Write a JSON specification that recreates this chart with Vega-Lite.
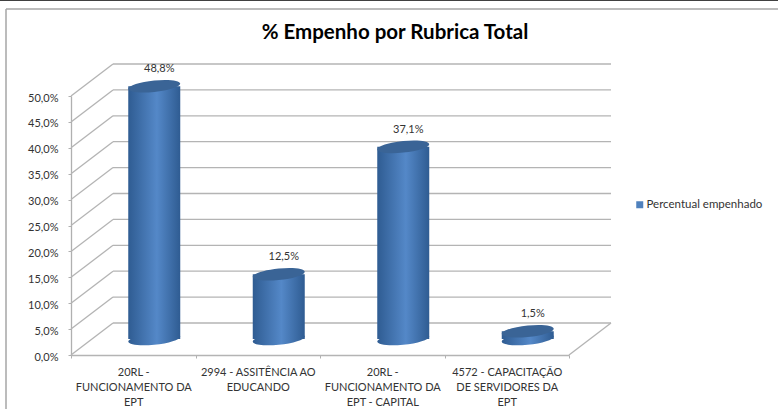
{
"$schema":"https://vega.github.io/schema/vega-lite/v6.json",
"width":498,"height":259,
"autosize":{"type":"none"},
"padding":{"left":71,"top":96,"right":209,"bottom":54},
"background":"white",
"title":{"text":"% Empenho por Rubrica Total","font":"Lato","fontSize":20.5,"fontWeight":"bold","color":"#000000","anchor":"middle","frame":"group","dx":75,"dy":44,"offset":0},
"config":{"view":{"stroke":null},"font":"Lato","axis":{"labelOverlap":false},"axisY":{"tickCount":11}},
"datasets":{
"bars":[
{"rubrica":"20RL - FUNCIONAMENTO DA EPT","pct":48.8,"rotulo":"48,8%","base":0,"serie":"Percentual empenhado"},
{"rubrica":"2994 - ASSITÊNCIA AO EDUCANDO","pct":12.5,"rotulo":"12,5%","base":0,"serie":"Percentual empenhado"},
{"rubrica":"20RL - FUNCIONAMENTO DA EPT - CAPITAL","pct":37.1,"rotulo":"37,1%","base":0,"serie":"Percentual empenhado"},
{"rubrica":"4572 - CAPACITAÇÃO DE SERVIDORES DA EPT","pct":1.5,"rotulo":"1,5%","base":0,"serie":"Percentual empenhado"}],
"wall":[{"v":0,"a":0,"b":1},{"v":5,"a":0,"b":1},{"v":10,"a":0,"b":1},{"v":15,"a":0,"b":1},{"v":20,"a":0,"b":1},{"v":25,"a":0,"b":1},{"v":30,"a":0,"b":1},{"v":35,"a":0,"b":1},{"v":40,"a":0,"b":1},{"v":45,"a":0,"b":1},{"v":50,"a":0,"b":1}],
"floor":[{"v":0,"a":1}],
"frame":[{"top":50,"bottom":0,"a":0,"b":1}]
},
"resolve":{"scale":{"x":"independent"},"axis":{"x":"independent"}},
"layer":[
{"data":{"name":"frame"},"mark":{"type":"rule","color":"#a6a6a6","strokeWidth":1.5,"xOffset":-65,"x2Offset":209,"yOffset":-87},
 "encoding":{"x":{"field":"a","type":"quantitative","axis":null,"scale":{"domain":[0,1]}},"x2":{"field":"b"},"y":{"field":"top","type":"quantitative","scale":{"domain":[0,50]},"axis":{"labelExpr":"replace(format(datum.value,'.1f'),'.',',')+'%'","title":null,"grid":false,"domainColor":"#b0b0b0","domainWidth":1.3,"tickColor":"#b0b0b0","tickSize":3,"labelColor":"#333333","labelFontSize":11,"labelFont":"Lato","labelPadding":10,"labelOffset":2,"labelOverlap":false}}}},
{"data":{"name":"frame"},"mark":{"type":"rule","color":"#000000","strokeWidth":1.5,"xOffset":-71,"x2Offset":209,"yOffset":-96},
 "encoding":{"x":{"field":"a","type":"quantitative","axis":null,"scale":{"domain":[0,1]}},"x2":{"field":"b"},"y":{"field":"top","type":"quantitative"}}},
{"data":{"name":"frame"},"mark":{"type":"rule","color":"#a6a6a6","strokeWidth":1.5,"xOffset":-65,"yOffset":-87,"y2Offset":54},
 "encoding":{"x":{"field":"a","type":"quantitative","axis":null,"scale":{"domain":[0,1]}},"y":{"field":"top","type":"quantitative"},"y2":{"field":"bottom"}}},
{"data":{"name":"wall"},"mark":{"type":"rule","color":"#b4b4b4","strokeWidth":1.3,"xOffset":42,"x2Offset":42,"yOffset":-32},
 "encoding":{"x":{"field":"a","type":"quantitative","axis":null,"scale":{"domain":[0,1]}},"x2":{"field":"b"},"y":{"field":"v","type":"quantitative"}}},
{"data":{"name":"wall"},"mark":{"type":"rule","color":"#b4b4b4","strokeWidth":1.3,"x2Offset":42,"y2Offset":-32},
 "encoding":{"x":{"field":"a","type":"quantitative","axis":null,"scale":{"domain":[0,1]}},"x2":{"field":"a"},"y":{"field":"v","type":"quantitative"},"y2":{"field":"v"}}},
{"data":{"name":"floor"},"mark":{"type":"rule","color":"#b4b4b4","strokeWidth":1.3,"x2Offset":42,"y2Offset":-32},
 "encoding":{"x":{"field":"a","type":"quantitative","axis":null,"scale":{"domain":[0,1]}},"x2":{"field":"a"},"y":{"field":"v","type":"quantitative"},"y2":{"field":"v"}}},
{"data":{"name":"bars"},"mark":{"type":"point","filled":true,"opacity":1,"size":2704,"shape":"M-1,0.1 A1,0.22 -6 1 1 1,-0.1 A1,0.22 -6 1 1 -1,0.1 Z","xOffset":21,"yOffset":-16,"fill":{"x1":0,"y1":0,"x2":1,"y2":0,"gradient":"linear","stops":[{"offset":0,"color":"#2f5c92"},{"offset":0.55,"color":"#5488c8"},{"offset":1,"color":"#2f5c92"}]}},
 "encoding":{"x":{"field":"rubrica","type":"nominal","sort":null,"scale":{"type":"band","padding":0},"axis":{"title":null,"labelAngle":0,"tickBand":"extent","tickColor":"#b0b0b0","tickSize":3,"domainColor":"#b4b4b4","domainWidth":1.3,"labelColor":"#333333","labelFontSize":11,"labelFont":"Lato","labelPadding":8,"labelLineHeight":15,"labelLimit":0,"labelOverlap":false,"labelBaseline":"top","labelExpr":"{'20RL - FUNCIONAMENTO DA EPT':['20RL -','FUNCIONAMENTO DA','EPT'],'2994 - ASSITÊNCIA AO EDUCANDO':['2994 - ASSITÊNCIA AO','EDUCANDO'],'20RL - FUNCIONAMENTO DA EPT - CAPITAL':['20RL -','FUNCIONAMENTO DA','EPT - CAPITAL'],'4572 - CAPACITAÇÃO DE SERVIDORES DA EPT':['4572 - CAPACITAÇÃO','DE SERVIDORES DA','EPT']}[datum.value]"}},"y":{"field":"base","type":"quantitative"}}},
{"data":{"name":"bars"},"mark":{"type":"bar","width":52,"xOffset":21,"yOffset":-16,"y2Offset":-16,"color":{"x1":0,"y1":0,"x2":1,"y2":0,"gradient":"linear","stops":[{"offset":0,"color":"#2f5c92"},{"offset":0.55,"color":"#5488c8"},{"offset":1,"color":"#2f5c92"}]}},
 "encoding":{"x":{"field":"rubrica","type":"nominal","sort":null,"scale":{"padding":0},"axis":null},"y":{"field":"pct","type":"quantitative"},"y2":{"field":"base"}}},
{"data":{"name":"bars"},"mark":{"type":"point","filled":true,"opacity":1,"size":2704,"shape":"M-1,0.1 A1,0.22 -6 1 1 1,-0.1 A1,0.22 -6 1 1 -1,0.1 Z","xOffset":21,"yOffset":-16,"color":"#3a6496"},
 "encoding":{"x":{"field":"rubrica","type":"nominal","sort":null,"scale":{"type":"band","padding":0},"axis":null},"y":{"field":"pct","type":"quantitative"}}},
{"data":{"name":"bars"},"mark":{"type":"text","font":"Lato","fontSize":11,"color":"#333333","xOffset":26,"yOffset":-33},
 "encoding":{"x":{"field":"rubrica","type":"nominal","sort":null,"scale":{"type":"band","padding":0},"axis":null},"y":{"field":"pct","type":"quantitative"},"text":{"field":"rotulo"}}},
{"data":{"name":"bars"},"mark":{"type":"point","filled":true,"size":0},
 "encoding":{"x":{"field":"rubrica","type":"nominal","sort":null,"scale":{"type":"band","padding":0},"axis":null},"y":{"field":"pct","type":"quantitative"},"color":{"field":"serie","type":"nominal","scale":{"range":["#4f81bd"]},"legend":{"title":null,"orient":"none","legendX":563,"legendY":103,"padding":0,"symbolType":"square","symbolSize":49,"symbolOpacity":1,"labelFont":"Lato","labelFontSize":11.5,"labelColor":"#333333","labelOffset":1,"labelLimit":0}}}}
]
}
